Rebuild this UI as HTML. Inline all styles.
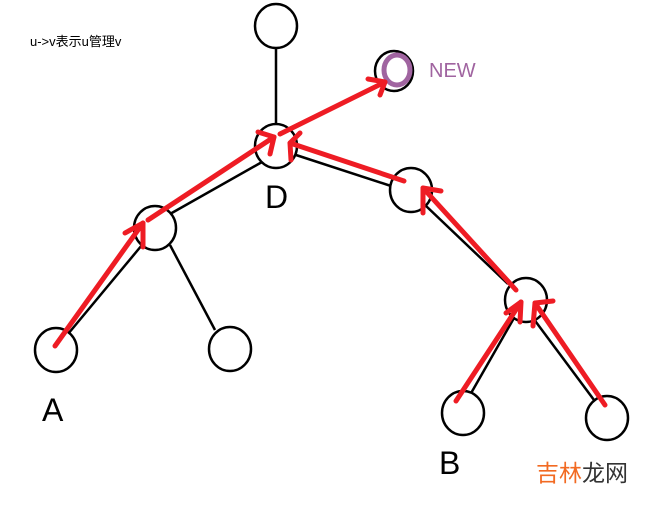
<!DOCTYPE html>
<html><head><style>
html,body{margin:0;padding:0;background:#fff;width:667px;height:507px;overflow:hidden}
svg{position:absolute;left:0;top:0}
</style></head><body>
<svg width="667" height="507" viewBox="0 0 667 507" xmlns="http://www.w3.org/2000/svg">
<g stroke="#000" stroke-width="2.5" fill="none">
<line x1="276" y1="48" x2="276" y2="126"/>
<line x1="262" y1="162" x2="170" y2="214"/>
<line x1="296" y1="155" x2="391" y2="186"/>
<line x1="142" y1="245" x2="68" y2="334"/>
<line x1="170" y1="245" x2="215" y2="330"/>
<line x1="425" y1="205" x2="508" y2="284"/>
<line x1="514" y1="318" x2="470" y2="395"/>
<line x1="533" y1="318" x2="594" y2="400"/>
<ellipse cx="276" cy="26" rx="21" ry="22" fill="#fff"/>
<ellipse cx="394" cy="71" rx="19" ry="20" fill="#fff"/>
<ellipse cx="276" cy="146" rx="21" ry="22" fill="#fff"/>
<ellipse cx="155" cy="228" rx="21" ry="22" fill="#fff"/>
<ellipse cx="411" cy="190" rx="21" ry="22" fill="#fff"/>
<ellipse cx="526" cy="300" rx="21" ry="22" fill="#fff"/>
<ellipse cx="56" cy="350" rx="21" ry="22" fill="#fff"/>
<ellipse cx="230" cy="349" rx="21" ry="22" fill="#fff"/>
<ellipse cx="463" cy="413" rx="21" ry="22" fill="#fff"/>
<ellipse cx="607" cy="418" rx="21" ry="22" fill="#fff"/>
</g>
<ellipse cx="397" cy="70" rx="13" ry="15" stroke="#a064a0" stroke-width="5" fill="none"/>
<g stroke="#ee1c24" stroke-width="5" fill="none" stroke-linecap="round" stroke-linejoin="round">
<line x1="55" y1="346" x2="143" y2="223"/>
<polyline points="125,233 143,223 143,247"/>
<line x1="148" y1="220" x2="274" y2="137"/>
<polyline points="258,132 274,137 270,154"/>
<line x1="280" y1="134" x2="385" y2="82"/>
<polyline points="368,79 385,82 380,95"/>
<line x1="404" y1="181" x2="290" y2="143"/>
<polyline points="300,133 290,143 291,160"/>
<line x1="516" y1="290" x2="423" y2="188"/>
<polyline points="423,213 423,188 441,191"/>
<line x1="456" y1="401" x2="521" y2="302"/>
<polyline points="506,313 521,302 520,322"/>
<line x1="605" y1="405" x2="535" y2="303"/>
<polyline points="533,326 535,303 553,301"/>
</g>
<g font-family="Liberation Sans, DejaVu Sans, sans-serif">
<text x="30" y="46" font-size="13" fill="#000" font-family="Liberation Sans, Noto Sans CJK SC, sans-serif">u-&gt;v表示u管理v</text>
<text x="429" y="77" font-size="20" fill="#a064a0">NEW</text>
<text x="265" y="208" font-size="32" fill="#000">D</text>
<text x="42" y="421" font-size="32" fill="#000">A</text>
<text x="439" y="474" font-size="32" fill="#000">B</text>
<text x="536" y="481" font-size="23" fill="#f26a22" font-family="Liberation Sans, Noto Sans CJK SC, sans-serif">吉林<tspan fill="#333">龙网</tspan></text>
</g>
</svg>
</body></html>
